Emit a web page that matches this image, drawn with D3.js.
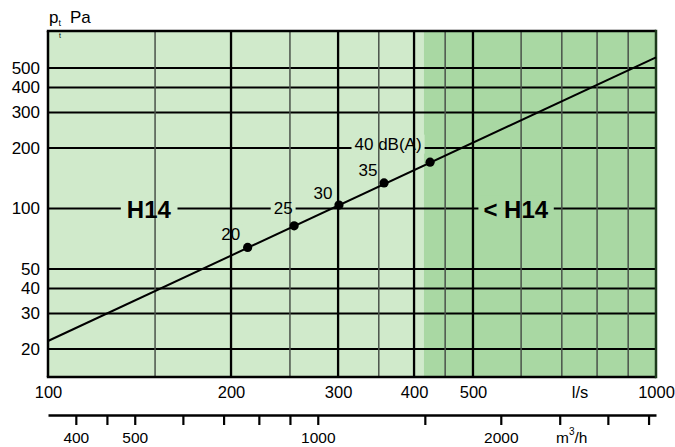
<!DOCTYPE html>
<html>
<head>
<meta charset="utf-8">
<script src="https://cdn.jsdelivr.net/npm/d3@7"></script>
<style>
  html, body { margin: 0; padding: 0; background: #fff; }
  svg text { font-family: "Liberation Sans", Arial, Helvetica, sans-serif; fill: #000; }
</style>
</head>
<body>
<svg id="chart" width="675" height="447"></svg>
<script>
// ---- data ----
const flowDomain = [100, 1000];          // l/s
const pressureDomain = [14.5, 764];      // Pa
const zoneSplit = 415;                   // l/s boundary H14 / < H14
const majorX = [200, 300, 400, 500];
const minorX = [150, 250, 350, 450, 600, 700, 800, 900];
const xLabels = [100, 200, 300, 400, 500, 1000];
const yGrid = [20, 30, 40, 50, 100, 200, 300, 400, 500];
const m3Ticks = [400, 450, 500, 600, 700, 800, 900, 1000, 1500, 2000, 2500, 3000, 3500];
const m3Labels = [400, 500, 1000, 2000];
const lineFlow = [100, 1000];
const linePressure = [21.9, 565];
const pointFlow = [213, 254, 301, 357, 425];
const pointPressure = [64, 82, 104, 134, 170];
const pointLabels = ["20", "25", "30", "35", "40 dB(A)"];

// ---- layout ----
const W = 675, H = 447;
const L = 48, R = 656, T = 31, B = 377;
const lightFill = "#d0eacb", darkFill = "#a9d8a3";
const svg = d3.select("#chart");

const x = d3.scaleLog().domain(flowDomain).range([L, R]);
const y = d3.scaleLog().domain(pressureDomain).range([B, T]);
const xm3 = d3.scaleLog().domain([flowDomain[0] * 3.6, flowDomain[1] * 3.6]).range([L, R]);

const gFill = svg.append("g");
const gH = svg.append("g");
const gBg = svg.append("g");
const gV = svg.append("g");
const gBorder = svg.append("g");
const gLine = svg.append("g");
const gText = svg.append("g");

// zones
gFill.append("rect").attr("x", x(flowDomain[0])).attr("y", T)
  .attr("width", x(zoneSplit) - x(flowDomain[0])).attr("height", B - T).attr("fill", lightFill);
gFill.append("rect").attr("x", x(zoneSplit)).attr("y", T)
  .attr("width", x(flowDomain[1]) - x(zoneSplit)).attr("height", B - T).attr("fill", darkFill);

// horizontal grid
gH.selectAll("line").data(yGrid).join("line")
  .attr("x1", L).attr("x2", R).attr("y1", d => y(d)).attr("y2", d => y(d))
  .attr("stroke", "#000").attr("stroke-width", 2);

// vertical grid
gV.selectAll("line.minor").data(minorX).join("line").attr("class", "minor")
  .attr("x1", d => x(d)).attr("x2", d => x(d)).attr("y1", T).attr("y2", B)
  .attr("stroke", "#4a524a").attr("stroke-width", 1.5);
gV.selectAll("line.major").data(majorX).join("line").attr("class", "major")
  .attr("x1", d => x(d)).attr("x2", d => x(d)).attr("y1", T).attr("y2", B)
  .attr("stroke", "#000").attr("stroke-width", 2.3);

// borders
gBorder.append("line").attr("x1", L - 1.2).attr("x2", R).attr("y1", T).attr("y2", T).attr("stroke", "#000").attr("stroke-width", 2.5);
gBorder.append("line").attr("x1", L - 1.2).attr("x2", R).attr("y1", B).attr("y2", B).attr("stroke", "#000").attr("stroke-width", 2.5);
gBorder.append("line").attr("x1", L).attr("x2", L).attr("y1", T).attr("y2", B).attr("stroke", "#000").attr("stroke-width", 2.5);
gBorder.append("line").attr("x1", R).attr("x2", R).attr("y1", T - 1.2).attr("y2", B + 1.2).attr("stroke", "#1d3a1c").attr("stroke-width", 2.5);

// characteristic line
const lineData = lineFlow.map((q, i) => [q, linePressure[i]]);
gLine.append("path").datum(lineData)
  .attr("d", d3.line().x(d => x(d[0])).y(d => y(d[1])))
  .attr("fill", "none").attr("stroke", "#000").attr("stroke-width", 2);

gLine.selectAll("circle").data(pointFlow).join("circle")
  .attr("cx", d => x(d)).attr("cy", (d, i) => y(pointPressure[i]))
  .attr("r", 4.6).attr("fill", "#000");

// labels with background (gap in gridlines)
function bgLabel(tx, ty, txt, size, weight, pad) {
  const t = gText.append("text").attr("x", tx).attr("y", ty)
    .attr("text-anchor", "middle").attr("dominant-baseline", "central")
    .attr("font-size", size).attr("font-weight", weight).text(txt);
  const bb = t.node().getBBox();
  gBg.append("rect").attr("x", bb.x - pad).attr("y", bb.y).attr("width", bb.width + 2 * pad)
    .attr("height", bb.height).attr("fill", tx > x(zoneSplit) ? darkFill : lightFill);
  return t;
}
const labelOffsets = [[-17, -13], [-11, -17], [-16, -12], [-16, -12], [-42, -18]];
pointFlow.forEach((q, i) => {
  bgLabel(x(q) + labelOffsets[i][0], y(pointPressure[i]) + labelOffsets[i][1], pointLabels[i], 17, "normal", 3);
});
bgLabel(x(146.5), y(100) + 1, "H14", 24, "bold", 6);
bgLabel(x(588), y(100) + 1, "< H14", 24, "bold", 5);

// y axis
const yAxis = svg.append("g").attr("transform", `translate(${L},0)`)
  .call(d3.axisLeft(y).tickValues(yGrid).tickSize(0).tickPadding(8).tickFormat(d3.format("d")));
yAxis.select(".domain").remove();
yAxis.selectAll("text").attr("font-size", 17).attr("font-family", "Liberation Sans, Arial, sans-serif").attr("fill", "#000").attr("dy", "0.3em");

// x axis (l/s)
const xAxis = svg.append("g").attr("transform", `translate(0,${B})`)
  .call(d3.axisBottom(x).tickValues(xLabels).tickSize(0).tickPadding(9).tickFormat(d3.format("d")));
xAxis.select(".domain").remove();
xAxis.selectAll("text").attr("font-size", 16.5).attr("font-family", "Liberation Sans, Arial, sans-serif").attr("fill", "#000");
svg.append("text").attr("x", 580).attr("y", 392).attr("text-anchor", "middle")
  .attr("dominant-baseline", "central").attr("font-size", 16.5).text("l/s");

// second axis (m3/h)
const m3Axis = svg.append("g").attr("transform", "translate(0,415)")
  .call(d3.axisBottom(xm3).tickValues(m3Ticks).tickSize(10).tickSizeOuter(0).tickPadding(7)
    .tickFormat(d => m3Labels.includes(d) ? d3.format("d")(d) : ""));
m3Axis.select(".domain").attr("stroke", "#000").attr("stroke-width", 2.5);
m3Axis.selectAll(".tick line").attr("stroke", "#000").attr("stroke-width", 2.2);
m3Axis.selectAll("text").attr("font-size", 15.5).attr("font-family", "Liberation Sans, Arial, sans-serif").attr("fill", "#000");
const m3t = svg.append("text").attr("x", 556).attr("y", 443).attr("font-size", 15.5);
m3t.append("tspan").text("m");
m3t.append("tspan").attr("font-size", 10).attr("dy", -8).text("3");
m3t.append("tspan").attr("dy", 8).text("/h");

// y title
const yt = svg.append("text").attr("x", 49).attr("y", 23).attr("font-size", 17);
yt.append("tspan").text("p");
yt.append("tspan").attr("font-size", 9).attr("dy", 3).text("t");
yt.append("tspan").attr("x", 70).attr("dy", -3).text("Pa");
svg.append("text").attr("x", 59).attr("y", 38).attr("font-size", 7).attr("fill", "#444").text("t");
</script>
</body>
</html>
